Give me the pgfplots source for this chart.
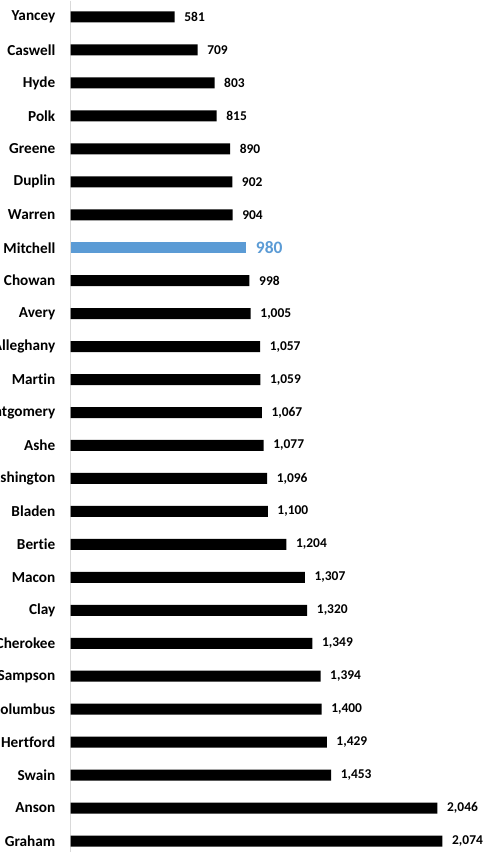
\documentclass[border=0pt]{standalone}
\usepackage{fontspec}
\setmainfont{Carlito}[Ligatures=NoCommon]
\usepackage{pgfplots}
\pgfplotsset{compat=1.18}
\usepackage{pgfplotstable}
\definecolor{hl}{HTML}{5B9BD5}
\definecolor{axgray}{HTML}{D9D9D9}
\pgfplotstableread{
idx val lab
0 581 581
1 709 709
2 803 803
3 815 815
4 890 890
5 902 902
6 904 904
8 998 998
9 1005 1,005
10 1057 1,057
11 1059 1,059
12 1067 1,067
13 1077 1,077
14 1096 1,096
15 1100 1,100
16 1204 1,204
17 1307 1,307
18 1320 1,320
19 1349 1,349
20 1394 1,394
21 1400 1,400
22 1429 1,429
23 1453 1,453
24 2046 2,046
25 2074 2,074
}\data
\pgfplotstableread{
idx val lab
7 980 980
}\hldata
\begin{document}
\begin{tikzpicture}
\useasboundingbox (0,0) rectangle (487bp,852bp);
\clip (0,0) rectangle (487bp,852bp);
\begin{axis}[
  at={(70.5bp,851.5bp)}, anchor=north west,
  scale only axis, width=412.5bp, height=857bp,
  xmin=0, xmax=2300, ymin=-0.5, ymax=25.5, y dir=reverse,
  xbar, bar width=11bp, bar shift=0pt,
  hide x axis,
  axis y line*=left,
  y axis line style={axgray, line width=0.8bp, -},
  ytick={0,...,25},
  yticklabels={Yancey,Caswell,Hyde,Polk,Greene,Duplin,Warren,Mitchell,Chowan,Avery,Alleghany,Martin,Montgomery,Ashe,Washington,Bladen,Bertie,Macon,Clay,Cherokee,Sampson,Columbus,Hertford,Swain,Anson,Graham},
  major tick length=0pt,
  yticklabel style={font=\bfseries\fontsize{15.3}{15}\selectfont, anchor=east, inner sep=0pt, xshift=-15bp},
  point meta=explicit symbolic,
  nodes near coords={\pgfplotspointmeta},
  nodes near coords style={anchor=west, inner sep=0pt, xshift=9.5bp},
]
\addplot[fill=black, draw=none, nodes near coords style={font=\bfseries\fontsize{13.5}{14}\selectfont, text=black}]
  table[x=val, y=idx, meta=lab]{\data};
\addplot[fill=hl, draw=none, nodes near coords style={font=\bfseries\fontsize{17.5}{18}\selectfont, text=hl}]
  table[x=val, y=idx, meta=lab]{\hldata};
\end{axis}
\end{tikzpicture}
\end{document}
